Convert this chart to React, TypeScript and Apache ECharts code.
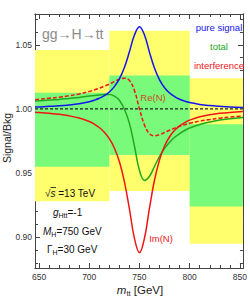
import React, { useEffect, useRef } from 'react';
import * as echarts from 'echarts';

// m_tt sample points [GeV]
const mass = [646, 650, 660, 670, 680, 690, 700, 705, 710, 715, 720, 725, 730, 735, 740, 745, 750, 755, 760, 765, 770, 775, 780, 785, 790, 795, 800, 810, 820, 830, 840, 853];
// blue: pure signal
const pureSignal = [1.0015, 1.0016, 1.0020, 1.0024, 1.0031, 1.0041, 1.0056, 1.0068, 1.0083, 1.0103, 1.0132, 1.0174, 1.0234, 1.0323, 1.0445, 1.0576, 1.0640, 1.0576, 1.0441, 1.0317, 1.0227, 1.0165, 1.0124, 1.0096, 1.0075, 1.0061, 1.0050, 1.0035, 1.0026, 1.0020, 1.0015, 1.0011];
// red dashed: Re(N) interference
const interfRe = [1.0072, 1.0075, 1.0083, 1.0091, 1.0103, 1.0117, 1.0136, 1.0148, 1.0161, 1.0177, 1.0194, 1.0213, 1.0231, 1.0240, 1.0221, 1.0144, 1.0000, 0.9874, 0.9806, 0.9790, 0.9799, 0.9816, 0.9834, 0.9850, 0.9865, 0.9877, 0.9888, 0.9905, 0.9917, 0.9928, 0.9936, 0.9944];
// red solid: Im(N) interference
const interfIm = [0.9974, 0.9972, 0.9966, 0.9958, 0.9946, 0.9929, 0.9902, 0.9882, 0.9855, 0.9819, 0.9769, 0.9696, 0.9590, 0.9434, 0.9221, 0.8991, 0.8880, 0.8993, 0.9228, 0.9446, 0.9604, 0.9711, 0.9783, 0.9833, 0.9868, 0.9894, 0.9913, 0.9939, 0.9955, 0.9966, 0.9973, 0.9979];
// green: total
const total = [1.0061, 1.0063, 1.0069, 1.0074, 1.0082, 1.0090, 1.0100, 1.0105, 1.0109, 1.0112, 1.0112, 1.0100, 1.0068, 0.9997, 0.9887, 0.9711, 0.9520, 0.9443, 0.9475, 0.9553, 0.9630, 0.9692, 0.9741, 0.9779, 0.9808, 0.9832, 0.9851, 0.9879, 0.9898, 0.9914, 0.9924, 0.9934];

const bkgLevel = 1.0;
const bkgRange = [646, 853];

// uncertainty bands per bin
const binEdges = [646, 720, 800, 853];
const yellowLow = [0.928, 0.936, 0.895];
const yellowHigh = [1.046, 1.061, 1.024];
const greenLow = [0.955, 0.964, 0.924];
const greenHigh = [1.0127, 1.026, 0.988];

const FONT = '"Liberation Sans", Arial, sans-serif';
const X_MIN = 646, X_MAX = 853, Y_MIN = 0.876, Y_MAX = 1.074;
const AXIS_COLOR = '#444';
const YELLOW = '#ffff6e';
const GREEN = '#7afa7a';
const BLUE = '#1414f0';
const RED = '#f01414';
const GREENLINE = '#20a820';

export default function App() {
  const ref = useRef<HTMLDivElement>(null);
  useEffect(() => {
    const chart = echarts.init(ref.current!, null, { renderer: 'svg' });
    const zip = (arr: number[]) => mass.map((m, i) => [m, arr[i]]);

    const mkX = (position: string, major: boolean, labels: boolean) => ({
      type: 'value', min: X_MIN, max: X_MAX, position,
      minInterval: major ? 50 : 10, maxInterval: major ? 50 : 10, splitNumber: major ? 4 : 20,
      axisLine: { show: true, onZero: false, lineStyle: { color: AXIS_COLOR, width: 1 } },
      axisTick: { show: true, inside: true, length: major ? 5 : 3, lineStyle: { color: AXIS_COLOR, width: 1 } },
      axisLabel: {
        show: labels, margin: 4, fontSize: 8.5, color: '#333', fontFamily: FONT,
        showMinLabel: false, showMaxLabel: false,
        formatter: (v: number) => (Math.abs(v % 50) < 1e-6 ? String(Math.round(v)) : ''),
      },
      splitLine: { show: false },
    });
    const mkY = (position: string, major: boolean, labels: boolean) => ({
      type: 'value', min: Y_MIN, max: Y_MAX, position,
      minInterval: major ? 0.05 : 0.01, maxInterval: major ? 0.05 : 0.01, splitNumber: major ? 4 : 19,
      axisLine: { show: true, onZero: false, lineStyle: { color: AXIS_COLOR, width: 1 } },
      axisTick: { show: true, inside: true, length: major ? 5 : 3, lineStyle: { color: AXIS_COLOR, width: 1 } },
      axisLabel: {
        show: labels, margin: 3, fontSize: 8.5, color: '#333', fontFamily: FONT,
        showMinLabel: false, showMaxLabel: false,
        formatter: (v: number) => {
          const k = v / 0.05;
          return Math.abs(k - Math.round(k)) < 1e-6 ? v.toFixed(2) : '';
        },
      },
      splitLine: { show: false },
    });

    const bandArea = (lo: number[], hi: number[]) =>
      lo.map((l, i) => [
        { xAxis: binEdges[i], yAxis: l },
        { xAxis: binEdges[i + 1], yAxis: hi[i] },
      ]);

    const txt = (x: number, y: number, text: string, fill: string, size: number, align = 'left', extra: any = {}) => ({
      type: 'text', x, y, z: 100,
      style: {
        text, fill, fontSize: size, fontFamily: FONT,
        align, verticalAlign: 'middle', textAlign: align, textVerticalAlign: 'middle', ...extra,
      },
    });
    const subRich = {
      i: { fontStyle: 'italic', fontSize: 10, fontFamily: FONT, fill: '#111' },
      n: { fontSize: 10, fontFamily: FONT, fill: '#111' },
      s: { fontSize: 7, fontFamily: FONT, fill: '#111', padding: [6, 0, 0, 0] },
    };

    const option: any = {
      animation: false,
      backgroundColor: '#fff',
      grid: { left: 35, right: 4, top: 14, bottom: 29, containLabel: false },
      xAxis: [mkX('bottom', true, true), mkX('bottom', false, false), mkX('top', true, false), mkX('top', false, false)],
      yAxis: [mkY('left', true, true), mkY('left', false, false), mkY('right', true, false), mkY('right', false, false)],
      series: [
        {
          type: 'line', data: [], z: 1, silent: true,
          markArea: { silent: true, itemStyle: { color: YELLOW, opacity: 1 }, label: { show: false }, data: bandArea(yellowLow, yellowHigh) },
        },
        {
          type: 'line', data: [], z: 2, silent: true,
          markArea: { silent: true, itemStyle: { color: GREEN, opacity: 1 }, label: { show: false }, data: bandArea(greenLow, greenHigh) },
        },
        {
          name: 'bkg', type: 'line', z: 3, symbol: 'none', silent: true,
          data: bkgRange.map((m) => [m, bkgLevel]),
          lineStyle: { color: '#222', width: 1.2, type: [3, 2] },
        },
        {
          name: 'total', type: 'line', z: 4, symbol: 'none', smooth: 0.4, silent: true,
          data: zip(total), lineStyle: { color: GREENLINE, width: 1.5 },
        },
        {
          name: 'Re(N)', type: 'line', z: 5, symbol: 'none', smooth: 0.4, silent: true,
          data: zip(interfRe), lineStyle: { color: RED, width: 1.5, type: [4, 2] },
        },
        {
          name: 'Im(N)', type: 'line', z: 6, symbol: 'none', smooth: 0.4, silent: true,
          data: zip(interfIm), lineStyle: { color: RED, width: 1.5 },
        },
        {
          name: 'pure signal', type: 'line', z: 7, symbol: 'none', smooth: 0.4, silent: true,
          data: zip(pureSignal), lineStyle: { color: BLUE, width: 1.5 },
        },
      ],
      graphic: [
        txt(42, 34, 'gg→H→tt', '#8a8a8a', 14),
        txt(219, 27, 'pure signal', BLUE, 9.5, 'center'),
        txt(219, 46, 'total', GREENLINE, 9.5, 'center'),
        txt(219, 65, 'interference', RED, 9.5, 'center'),
        txt(153, 97, 'Re(N)', '#c84a2c', 9.5, 'center'),
        txt(161, 238, 'Im(N)', '#ee2020', 9.5, 'center'),
        txt(45, 193, '{n|√}{i|s}{n| =13 TeV}', '#111', 10, 'left', { rich: subRich }),
        { type: 'line', z: 100, shape: { x1: 50.5, y1: 187.5, x2: 56, y2: 187.5 }, style: { stroke: '#111', lineWidth: 0.8 } },
        txt(53, 212, '{i|g}{s|Htt}{n|=-1}', '#111', 10, 'left', { rich: subRich }),
        txt(43, 231, '{i|M}{s|H}{n|=750 GeV}', '#111', 10, 'left', { rich: subRich }),
        txt(47, 249, '{n|Γ}{s|H}{n|=30 GeV}', '#111', 10, 'left', { rich: subRich }),
        {
          type: 'text', x: 7, y: 138, rotation: Math.PI / 2, z: 100,
          style: { text: 'Signal/Bkg', fill: '#222', fontSize: 10.5, fontFamily: FONT, align: 'center', verticalAlign: 'middle', textAlign: 'center', textVerticalAlign: 'middle' },
        },
        txt(140, 290, '{i|m}{s|tt}{n| [GeV]}', '#222', 11, 'center', {
          rich: {
            i: { fontStyle: 'italic', fontSize: 11.5, fontFamily: FONT, fill: '#222' },
            n: { fontSize: 11.5, fontFamily: FONT, fill: '#222' },
            s: { fontSize: 7.5, fontFamily: FONT, fill: '#222', padding: [6, 0, 0, 0] },
          },
        }),
      ],
    };
    chart.setOption(option);
    return () => chart.dispose();
  }, []);
  return <div ref={ref} style={{ position: 'absolute', left: 0, top: 0, width: 250, height: 297 }} />;
}
